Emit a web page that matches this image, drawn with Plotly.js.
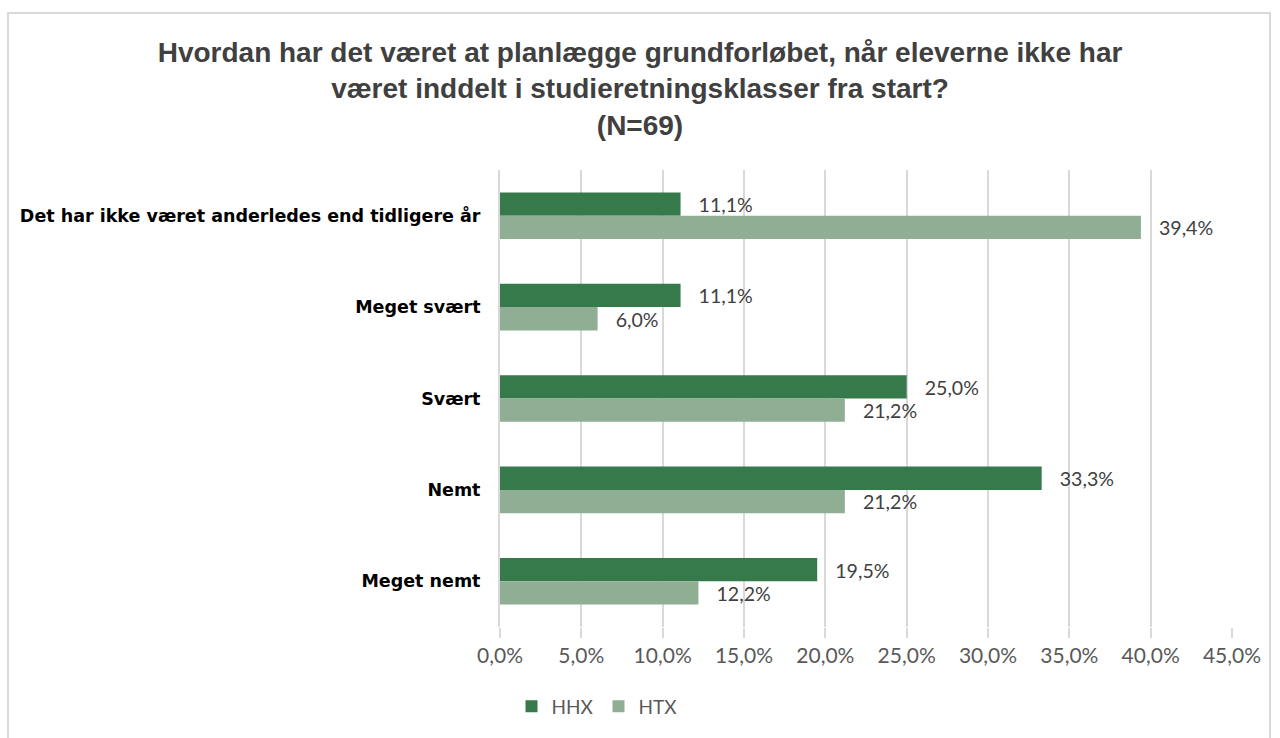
<!DOCTYPE html>
<html>
<head>
<meta charset="utf-8">
<script src="https://cdn.plot.ly/plotly-3.0.1.min.js"></script>
<style>
html,body{margin:0;padding:0;background:#fff;}
#chart{width:1280px;height:738px;}
</style>
</head>
<body>
<div id="chart"></div>
<script>
var categories = [
  "Det har ikke været anderledes end tidligere år",
  "Meget svært",
  "Svært",
  "Nemt",
  "Meget nemt"
];
var seriesNames = ["HHX", "HTX"];
var hhxValues = [11.1, 11.1, 25.0, 33.3, 19.5];
var htxValues = [39.4, 6.0, 21.2, 21.2, 12.2];
var tickValues = [0, 5, 10, 15, 20, 25, 30, 35, 40, 45];

function fmtPct(v){ return v.toFixed(1).replace(".", ",") + "%"; }
var tickLabels = tickValues.map(fmtPct);

var colors = ["#36794B", "#8FAE94"];
var labelFont = {family: "Lato, 'Open Sans', sans-serif", size: 21, color: "#404040"};
var tickFont = {family: "Lato, 'Open Sans', sans-serif", size: 21, color: "#595959"};

function barTrace(name, values, color) {
  return {
    type: "bar",
    orientation: "h",
    name: name,
    y: categories,
    x: values,
    marker: {color: color},
    text: values,
    texttemplate: "\u00a0\u00a0\u00a0%{x:.1f}%",
    textposition: "outside",
    cliponaxis: false,
    textfont: labelFont,
    hoverinfo: "x+y+name"
  };
}

var data = [
  barTrace(seriesNames[0], hhxValues, colors[0]),
  barTrace(seriesNames[1], htxValues, colors[1])
];

// plot area: x 500..1232, y 170..630
var L = 500, R = 48, T = 170, B = 108, W = 732, H = 460;
function px(x){ return (x - L) / W; }
function py(y){ return (T + H - y) / H; }

var layout = {
  width: 1280,
  height: 738,
  margin: {l: L, r: R, t: T, b: B, pad: 0},
  paper_bgcolor: "#ffffff",
  plot_bgcolor: "#ffffff",
  separators: ",.",
  barmode: "group",
  bargap: 0.49,
  bargroupgap: 0,
  title: {
    text: "Hvordan har det været at planlægge grundforløbet, når eleverne ikke har<br>været inddelt i studieretningsklasser fra start?<br>(N=69)",
    font: {family: "'Liberation Sans', Arial, sans-serif", size: 28, color: "#404040", weight: "bold"},
    x: 0.5,
    xref: "container",
    xanchor: "center",
    y: 1 - 62 / 738,
    yref: "container",
    yanchor: "middle"
  },
  xaxis: {
    range: [0, 45],
    tickmode: "array",
    tickvals: tickValues,
    ticktext: tickLabels,
    showgrid: true,
    gridcolor: "#d9d9d9",
    gridwidth: 2,
    zeroline: false,
    showline: false,
    ticks: "outside",
    ticklen: 10,
    tickcolor: "#d9d9d9",
    tickwidth: 2,
    tickfont: tickFont,
    fixedrange: true
  },
  yaxis: {
    type: "category",
    autorange: "reversed",
    showgrid: false,
    zeroline: false,
    showline: true,
    linecolor: "#d9d9d9",
    linewidth: 2,
    ticks: "",
    ticklabelstandoff: 14,
    tickfont: {family: "'DejaVu Sans', sans-serif", size: 17.5, color: "#000000", weight: "bold"},
    fixedrange: true
  },
  legend: {
    orientation: "h",
    x: px(597),
    xanchor: "center",
    y: py(710),
    yanchor: "middle",
    itemwidth: 30,
    font: {family: "Lato, 'Open Sans', sans-serif", size: 19, color: "#595959"},
    traceorder: "normal"
  },
  shapes: [{
    type: "rect",
    xref: "paper", yref: "paper",
    x0: px(8), x1: px(1270), y0: py(745), y1: py(12),
    line: {color: "#d9d9d9", width: 2},
    fillcolor: "rgba(0,0,0,0)",
    layer: "below"
  }],
  showlegend: true
};

Plotly.newPlot("chart", data, layout, {displayModeBar: false, staticPlot: true});
</script>
</body>
</html>
